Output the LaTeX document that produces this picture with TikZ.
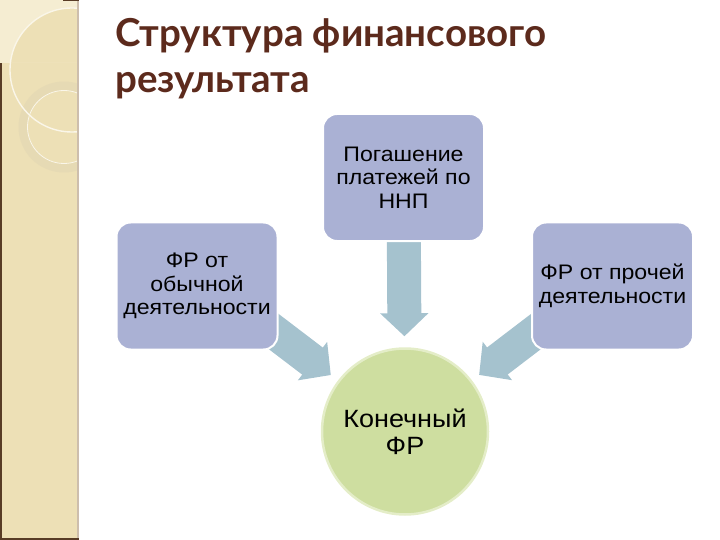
\documentclass[tikz,border=0pt]{standalone}
\usepackage{fontspec}
\setmainfont{Liberation Sans}
\newfontfamily\boxfont[FakeStretch=1.1]{Liberation Sans}
\newfontfamily\circfont[FakeStretch=1.08]{Liberation Sans}
\newfontfamily\titlefont{Lato}
\usetikzlibrary{arrows.meta,backgrounds}
\definecolor{strip}{RGB}{237,224,182}
\definecolor{stripl}{RGB}{245,237,210}
\definecolor{stripring}{RGB}{230,218,180}
\definecolor{stripedge}{RGB}{205,190,172}
\definecolor{stripdark}{RGB}{88,60,38}
\definecolor{titlec}{RGB}{92,42,28}
\definecolor{boxc}{RGB}{170,177,212}
\definecolor{arrowc}{RGB}{165,194,206}
\definecolor{circc}{RGB}{206,222,160}
\definecolor{circrim}{RGB}{228,237,200}
\begin{document}
\begin{tikzpicture}[x=1pt,y=-1pt,
  box/.style={draw=white, line width=2pt, fill=boxc, rounded corners=14pt,
    minimum width=161pt, minimum height=127pt, align=center, inner sep=0pt,
    font=\boxfont\fontsize{21}{23.5}\selectfont},
  endcirc/.style={circle, draw=circrim, line width=2.5pt, fill=circc,
    minimum size=166pt, align=center, inner sep=0pt,
    font=\circfont\fontsize{25}{27}\selectfont},
  bigarrow/.style={arrowc, line width=34pt,
    -{Triangle[length=23pt,width=47pt]}},
  titlestyle/.style={anchor=north west, align=left, inner sep=0pt, text=titlec,
    font=\titlefont\bfseries\fontsize{38.5}{46}\selectfont}
]
\useasboundingbox (0,0) rectangle (720,540);
% left decorative strip
\fill[strip] (0,0) rectangle (79,540);
\begin{scope}
  \clip (0,0) rectangle (78,63);
  \fill[stripl, even odd rule] (0,0) rectangle (78,63) (72,70) circle (62);
\end{scope}
\begin{scope}
  \clip (0,0) rectangle (78,540);
  \draw[stripring, line width=9pt] (64,127) circle (41);
  \draw[stripl!50!white, line width=0.8pt] (64,127) circle (36.5);
  \draw[white!70!strip, line width=1.4pt] (72,70) circle (62);
\end{scope}
\fill[stripedge] (77,0) rectangle (79,540);
\fill[stripdark] (0,63) rectangle (1.5,540);
\fill[stripdark] (0,537.5) rectangle (79,540);
\fill[stripdark] (63,0) rectangle (79,1.5);
% title
\node[titlestyle] (title) at (115,18) {Структура финансового\\результата};
% nodes
\node[box] (tbox) at (403.5,177.5) {Погашение\\платежей по\\ННП};
\node[box] (lbox) at (197,286) {ФР от\\обычной\\деятельности};
\node[box] (rbox) at (612.5,286) {ФР от прочей\\деятельности};
\node[endcirc] (circ) at (405,431.5) {Конечный\\ФР};
% block arrows behind the boxes
\begin{scope}[on background layer]
  \draw[bigarrow, shorten >=11pt] (tbox.center) -- (circ);
  \draw[bigarrow, shorten >=9pt] ([shift={(30,10)}]lbox.center) -- (circ);
  \draw[bigarrow, shorten >=9pt] ([shift={(-30,10)}]rbox.center) -- (circ);
\end{scope}
\end{tikzpicture}
\end{document}
